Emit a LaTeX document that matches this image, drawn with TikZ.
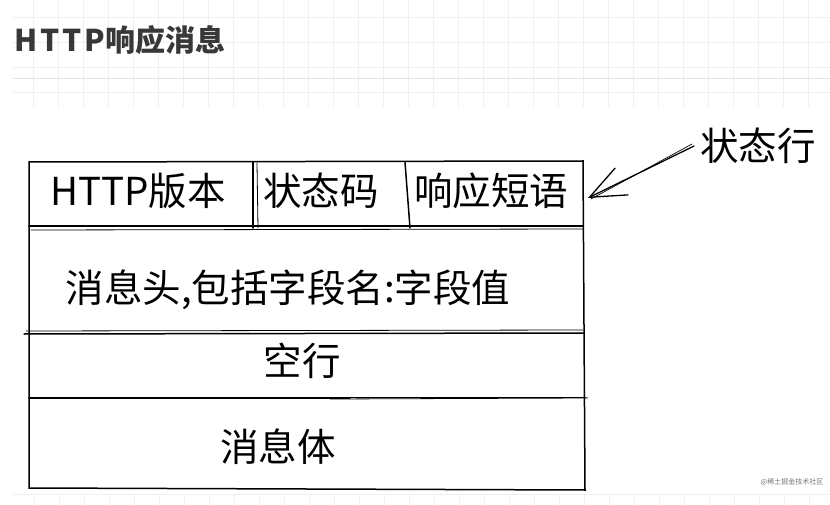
\documentclass[tikz,border=0pt]{standalone}
\usepackage{fontspec}
\setmainfont{Noto Sans CJK SC}
\usepackage{tikz}
\usetikzlibrary{arrows.meta}

\begin{document}
\begin{tikzpicture}[x=1pt,y=-1pt,line cap=round,
	cell/.style ={inner sep=0pt, font=\fontsize{38.5}{40}\selectfont},
	edge/.style ={line width=1.5pt},
	faint/.style ={draw=black!6, line width=0.6pt}]
		\useasboundingbox (0,0) rectangle (830,505);
		% grid paper behind the title and below the box
		\foreach \x in {33,58,...,830} \draw[faint] (\x,0)--(\x,107);
		\foreach \y in {17,42,67,92} \draw[faint] (13,\y)--(830,\y);
		\draw[draw=black!10, line width=0.8pt] (13,78)--(830,78);
		\foreach \x in {34,59,...,830} \draw[faint] (\x,494)--(\x,505);
		\draw[faint] (13,494)--(830,494);
		\node[anchor=base west, inner sep=0pt, text=black!78, font=\fontsize{30}{32}\selectfont\bfseries] (title) at (14,52) {H\hspace{3pt}T\hspace{3pt}T\hspace{3pt}P响应消息};
		% the box
		\draw[edge] (29,162)--(583,161)--(585,490)--(29,488)--cycle;
		\draw[edge] (29,226)--(583,226);
		\draw[line width=0.8pt] (31,230)--(583,229);
		\draw[edge] (253,162)--(253,228);
		\draw[line width=0.8pt] (257,163)--(258,228);
		\draw[edge] (405,162)--(410,228);
		\draw[edge] (24,334)--(584,333);
		\draw[line width=0.8pt] (26,331)--(583,330);
		\draw[edge] (29,398)--(350,398);
		\draw[line width=0.8pt] (330,399)--(588,398);
		\draw[line width=0.8pt] (350,397)--(586,397);
		% texts
		\node[cell] (n1) at (138,191) {HTTP版本};
		\node[cell] (n2) at (321,191) {状态码};
		\node[cell] (n3) at (491,191) {响应短语};
		\node[cell] (n4) at (288,290) {消息头,包括字段名:字段值};
		\node[cell] (n5) at (302,361) {空行};
		\node[cell] (n6) at (278,447) {消息体};
		\node[cell] (lbl) at (758,146) {状态行};
		\node[inner sep=0pt, text=black!55, font=\fontsize{7}{8}\selectfont] (mark) at (792,482) {@稀土掘金技术社区};
		\coordinate (tip) at (588,198);
		\draw[edge, line width=1.3pt, -{Straight Barb[length=36pt,width=30pt,line width=1.3pt]}] ([xshift=-6pt]lbl.west) -- (tip);
		\draw[line width=0.7pt] ([xshift=-8pt,yshift=2pt]lbl.west) -- ([xshift=3pt,yshift=-1pt]tip);
	\end{tikzpicture}
\end{document}
